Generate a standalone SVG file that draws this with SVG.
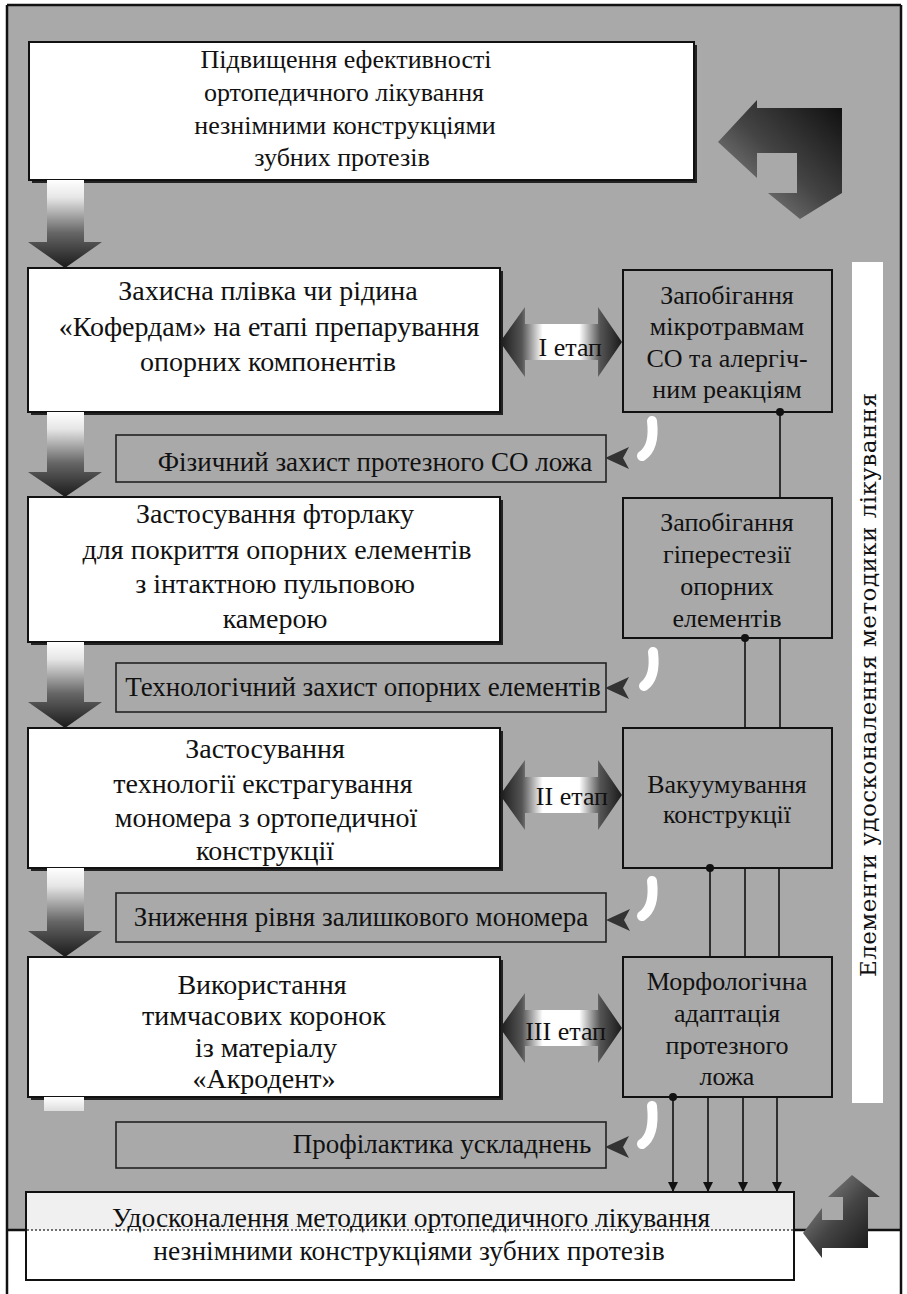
<svg xmlns="http://www.w3.org/2000/svg" width="907" height="1294" viewBox="0 0 907 1294">
<defs>
<style>
.t{font-family:"Liberation Serif","Times New Roman",serif;font-size:26px;fill:#111;text-anchor:middle}
.tl{font-family:"Liberation Serif","Times New Roman",serif;font-size:28px;fill:#111;text-anchor:middle}
.tbt{font-family:"Liberation Serif","Times New Roman",serif;font-size:27.5px;fill:#111;text-anchor:middle}
.tb{font-family:"Liberation Serif","Times New Roman",serif;font-size:27px;fill:#111;text-anchor:middle}
.ts{font-family:"Liberation Serif","Times New Roman",serif;font-size:26px;fill:#111;text-anchor:end}
.tv{font-family:"DejaVu Serif",serif;font-size:23px;fill:#111}
.box{fill:#fff;stroke:#111;stroke-width:2}
.gbox{fill:#a9a9a9;stroke:#111;stroke-width:2}
.bar{fill:#a9a9a9;stroke:#222;stroke-width:1.6}
.shadow{fill:#222}
.conn{stroke:#111;stroke-width:1.6;fill:none}
.dn{fill:url(#gDown)}
.st{fill:url(#gStage)}
.sa{fill:#333}
.cm{stroke:#fff;stroke-width:10;stroke-linecap:round;fill:none}
.frame{stroke:#111;stroke-width:2.5;fill:none}
</style>
<linearGradient id="gDown" x1="0" y1="0" x2="0" y2="1">
<stop offset="0" stop-color="#fff"/>
<stop offset="0.2" stop-color="#e6e6e6"/>
<stop offset="0.6" stop-color="#666"/>
<stop offset="1" stop-color="#1a1a1a"/>
</linearGradient>
<linearGradient id="gStub" x1="0" y1="0" x2="0" y2="1">
<stop offset="0" stop-color="#fff"/>
<stop offset="1" stop-color="#ddd"/>
</linearGradient>
<linearGradient id="gStage" x1="0" y1="0" x2="1" y2="0">
<stop offset="0" stop-color="#1a1a1a"/>
<stop offset="0.18" stop-color="#555"/>
<stop offset="0.35" stop-color="#fff"/>
<stop offset="0.65" stop-color="#fff"/>
<stop offset="0.82" stop-color="#555"/>
<stop offset="1" stop-color="#1a1a1a"/>
</linearGradient>
<linearGradient id="gTR" x1="1" y1="0" x2="0" y2="1">
<stop offset="0" stop-color="#0d0d0d"/>
<stop offset="0.5" stop-color="#444"/>
<stop offset="1" stop-color="#9a9a9a"/>
</linearGradient>
<linearGradient id="gBR" x1="1" y1="1" x2="0" y2="0">
<stop offset="0" stop-color="#0d0d0d"/>
<stop offset="0.5" stop-color="#444"/>
<stop offset="1" stop-color="#9a9a9a"/>
</linearGradient>
<marker id="dot" markerWidth="10" markerHeight="10" refX="5" refY="5" markerUnits="userSpaceOnUse">
<circle cx="5" cy="5" r="4" fill="#111"/>
</marker>
<marker id="arr" viewBox="0 0 10 10" markerWidth="10" markerHeight="10" refX="10" refY="5" orient="auto" markerUnits="userSpaceOnUse">
<path d="M0,0 L10,5 L0,10 Z" fill="#111"/>
</marker>
</defs>

<!-- background and frame -->
<rect x="0" y="0" width="907" height="1294" fill="#fff"/>
<rect x="7" y="5" width="894" height="1225" fill="#a9a9a9"/>
<path class="frame" d="M7,5 H901 M7,5 V1294 M901,5 V1294 M7,1230 H901"/>
<rect x="852" y="262" width="31" height="841" fill="#fff"/>
<text class="tv" transform="translate(876,977) rotate(-90)" textLength="584" lengthAdjust="spacing">Елементи удосконалення методики лікування</text>

<!-- decorative bent arrows -->
<path id="arrow-top-right" fill="url(#gTR)" d="M757,100 L757,108 L842,108 L842,193 L800,219 L768,193 L797,193 L797,153 L757,153 L757,178 L718,142 Z"/>
<path id="arrow-bottom-right" fill="url(#gBR)" d="M852,1175 L880,1197 L868,1197 L868,1248 L822,1248 L822,1258 L803,1233 L822,1208 L822,1220 L843,1220 L843,1197 L828,1197 Z"/>

<!-- nodes -->
<g id="n-top">
<rect class="shadow" x="32" y="45" width="665" height="138"/>
<rect class="box" x="29" y="42" width="665" height="138"/>
<text class="t" x="346" y="68">Підвищення ефективності</text>
<text class="t" x="344" y="101">ортопедичного лікування</text>
<text class="t" x="345" y="134">незнімними конструкціями</text>
<text class="t" x="342" y="166">зубних протезів</text>
</g>

<g id="n-box1">
<rect class="shadow" x="31" y="271" width="472" height="144"/>
<rect class="box" x="28" y="268" width="472" height="144"/>
<text class="tl" x="268" y="300">Захисна плівка чи рідина</text>
<text class="tl" x="269" y="336">«Кофердам» на етапі препарування</text>
<text class="tl" x="268" y="371">опорних компонентів</text>
</g>

<g id="n-box2">
<rect class="shadow" x="31" y="500" width="472" height="145"/>
<rect class="box" x="28" y="497" width="472" height="145"/>
<text class="tl" x="275" y="523">Застосування фторлаку</text>
<text class="tl" x="277" y="559">для покриття опорних елементів</text>
<text class="tl" x="275" y="593">з інтактною пульповою</text>
<text class="tl" x="275" y="628">камерою</text>
</g>

<g id="n-box3">
<rect class="shadow" x="31" y="731" width="472" height="140"/>
<rect class="box" x="28" y="728" width="472" height="140"/>
<text class="tl" x="265" y="758">Застосування</text>
<text class="tl" x="263" y="793">технології екстрагування</text>
<text class="tl" x="266" y="827">мономера з ортопедичної</text>
<text class="tl" x="265" y="860">конструкції</text>
</g>

<g id="n-box4">
<rect class="shadow" x="31" y="960" width="472" height="140"/>
<rect class="box" x="28" y="957" width="472" height="140"/>
<text class="tl" x="262" y="994">Використання</text>
<text class="tl" x="264" y="1025">тимчасових коронок</text>
<text class="tl" x="266" y="1057">із матеріалу</text>
<text class="tl" x="264" y="1088">«Акродент»</text>
</g>

<g id="n-r1">
<rect class="gbox" x="623" y="270" width="209" height="142"/>
<text class="t" x="727" y="304">Запобігання</text>
<text class="t" x="727" y="335">мікротравмам</text>
<text class="t" x="727" y="367">СО та алергіч-</text>
<text class="t" x="727" y="398">ним реакціям</text>
</g>

<g id="n-r2">
<rect class="gbox" x="623" y="498" width="209" height="140"/>
<text class="t" x="727" y="531">Запобігання</text>
<text class="t" x="727" y="563">гіперестезії</text>
<text class="t" x="727" y="595">опорних</text>
<text class="t" x="727" y="627">елементів</text>
</g>

<g id="n-r3">
<rect class="gbox" x="623" y="728" width="209" height="140"/>
<text class="t" x="727" y="793">Вакуумування</text>
<text class="t" x="727" y="823">конструкції</text>
</g>

<g id="n-r4">
<rect class="gbox" x="623" y="957" width="209" height="140"/>
<text class="t" x="727" y="990">Морфологічна</text>
<text class="t" x="727" y="1022">адаптація</text>
<text class="t" x="727" y="1054">протезного</text>
<text class="t" x="727" y="1085">ложа</text>
</g>

<g id="n-bar1">
<rect class="bar" x="116" y="435" width="490" height="47"/>
<text class="tb" x="375" y="471">Фізичний захист протезного СО ложа</text>
</g>
<g id="n-bar2">
<rect class="bar" x="116" y="663" width="490" height="49"/>
<text class="tb" x="363" y="696">Технологічний захист опорних елементів</text>
</g>
<g id="n-bar3">
<rect class="bar" x="116" y="893" width="490" height="49"/>
<text class="tb" x="361" y="926">Зниження рівня залишкового мономера</text>
</g>
<g id="n-bar4">
<rect class="bar" x="116" y="1122" width="490" height="46"/>
<text class="tb" x="442" y="1153">Профілактика ускладнень</text>
</g>

<g id="n-bottom">
<rect class="box" x="26" y="1192" width="768" height="88"/>
<rect x="27" y="1193" width="766" height="37" fill="#f0f0f0"/>
<line x1="27" y1="1230" x2="793" y2="1230" stroke="#444" stroke-width="1.5" stroke-dasharray="2 2"/>
<text class="tbt" x="411" y="1227">Удосконалення методики ортопедичного лікування</text>
<text class="tbt" x="409" y="1260">незнімними конструкціями зубних протезів</text>
</g>

<!-- connectors -->
<g id="connectors">
<path class="dn" d="M47,180 H84 V242 H102 L65,268 L28,242 H47 Z"/>
<path class="dn" d="M47,412 H84 V472 H102 L65,497 L28,472 H47 Z"/>
<path class="dn" d="M47,642 H84 V702 H102 L65,728 L28,702 H47 Z"/>
<path class="dn" d="M47,868 H84 V931 H102 L65,957 L28,931 H47 Z"/>
<rect x="44" y="1097" width="40" height="14" fill="url(#gStub)"/>

<path class="st" d="M500,342 L525,307 V324 H598 V307 L622,342 L598,377 V360 H525 V377 Z"/>
<path class="st" d="M500,795 L525,760 V777 H598 V760 L622,795 L598,830 V813 H525 V830 Z"/>
<path class="st" d="M500,1028 L525,993 V1010 H598 V993 L622,1028 L598,1063 V1046 H525 V1063 Z"/>
<text class="ts" x="602" y="356">I етап</text>
<text class="ts" x="608" y="805">II етап</text>
<text class="ts" x="606" y="1040">III етап</text>

<path class="cm" d="M652,421 C654,438 651,450 642,456"/>
<polygon class="sa" points="605,458 629,447 623,458 629,469"/>
<path class="cm" d="M653,652 C655,668 652,680 644,686"/>
<polygon class="sa" points="605,688 629,677 623,688 629,699"/>
<path class="cm" d="M652,881 C654,898 651,910 642,916"/>
<polygon class="sa" points="606,920 630,909 624,920 630,931"/>
<path class="cm" d="M652,1106 C654,1125 651,1138 642,1144"/>
<polygon class="sa" points="605,1147 629,1136 623,1147 629,1158"/>

<line class="conn" x1="780" y1="412" x2="780" y2="498" marker-start="url(#dot)"/>
<line class="conn" x1="745" y1="638" x2="745" y2="728" marker-start="url(#dot)"/>
<line class="conn" x1="780" y1="638" x2="780" y2="728"/>
<line class="conn" x1="710" y1="868" x2="710" y2="957" marker-start="url(#dot)"/>
<line class="conn" x1="745" y1="868" x2="745" y2="957"/>
<line class="conn" x1="779" y1="868" x2="779" y2="957"/>
<line class="conn" x1="673" y1="1097" x2="673" y2="1192" marker-start="url(#dot)" marker-end="url(#arr)"/>
<line class="conn" x1="708" y1="1097" x2="708" y2="1192" marker-end="url(#arr)"/>
<line class="conn" x1="743" y1="1097" x2="743" y2="1192" marker-end="url(#arr)"/>
<line class="conn" x1="777" y1="1097" x2="777" y2="1192" marker-end="url(#arr)"/>
</g>
</svg>
